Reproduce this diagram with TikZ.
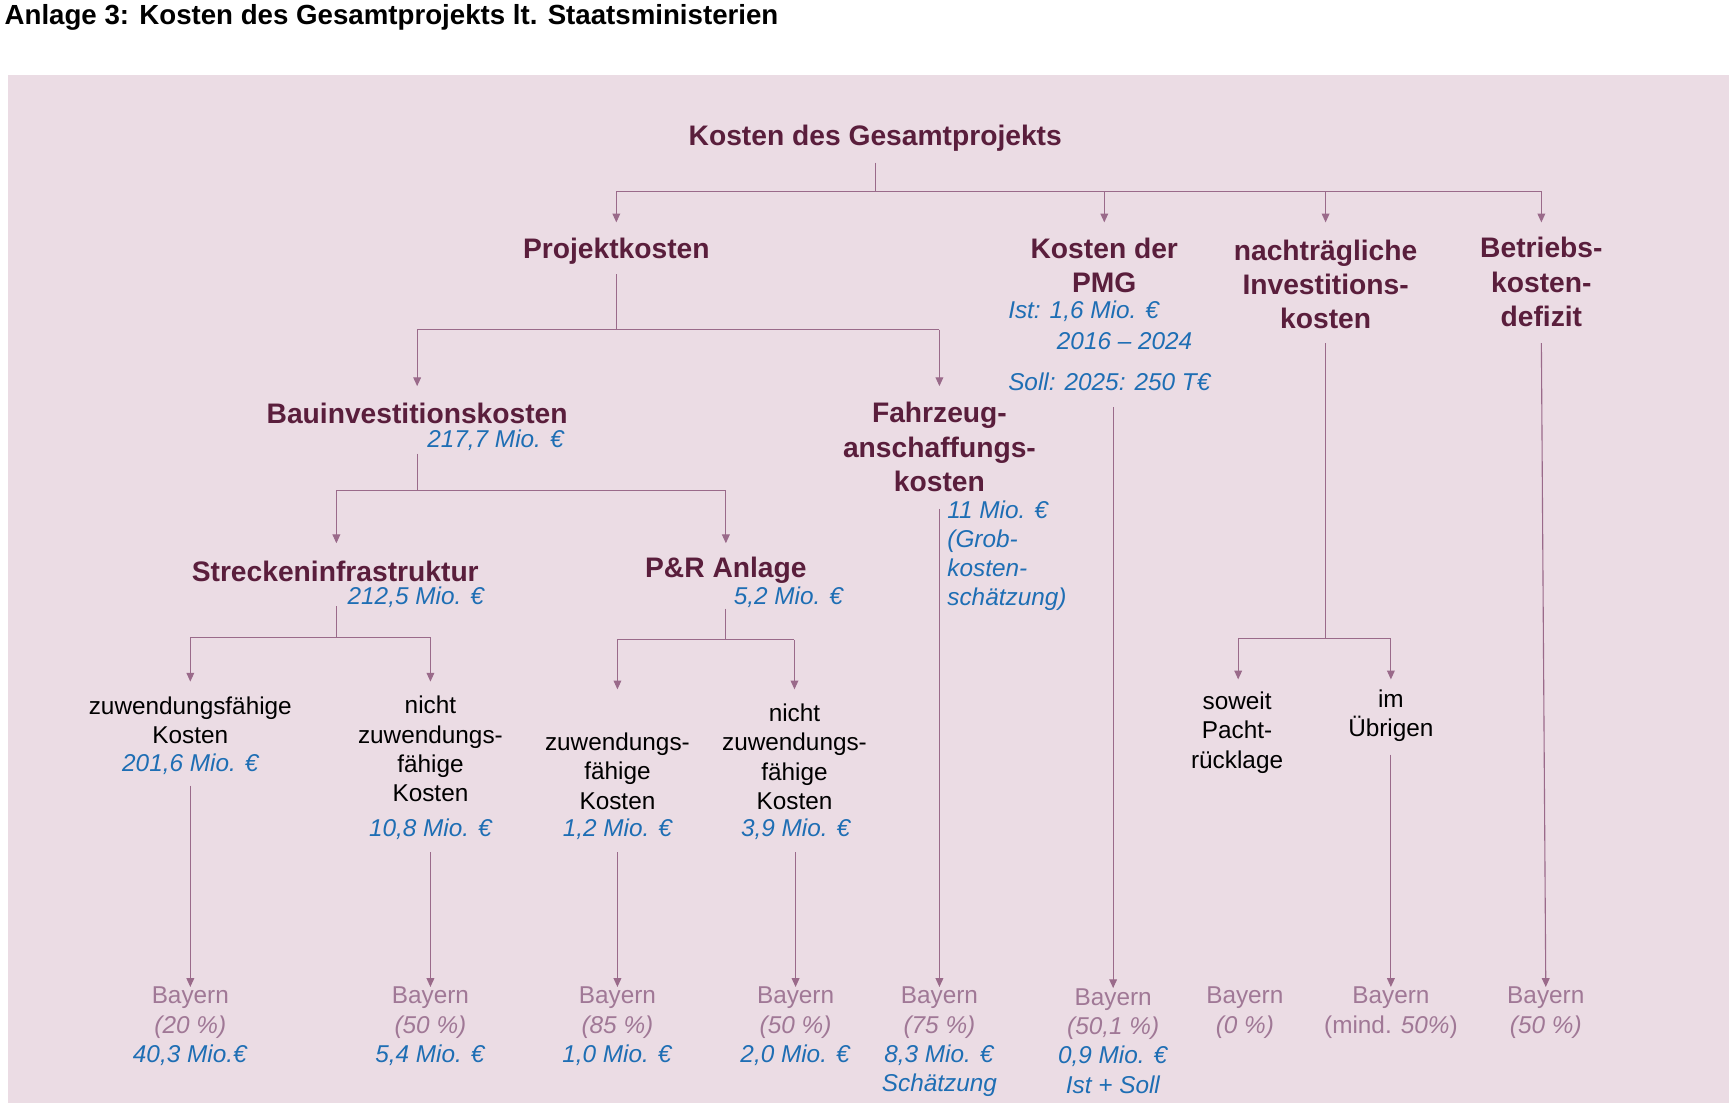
\documentclass[tikz,border=0pt]{standalone}
\usepackage{fontspec}
\setmainfont{Liberation Sans}
\usetikzlibrary{arrows.meta}
\definecolor{bg}{HTML}{EBDCE4}
\definecolor{hd}{HTML}{5A1E3C}
\definecolor{ln}{HTML}{9A6A8A}
\definecolor{bl}{HTML}{1E6EB4}
\definecolor{gy}{HTML}{A07896}
\tikzset{
 hdn/.style={text=hd,font=\fontsize{25.5}{31}\selectfont\bfseries,align=center,inner sep=0pt},
 txt/.style={text=black,font=\fontsize{22}{26.5}\selectfont,align=center,inner sep=0pt},
 blu/.style={text=bl,font=\fontsize{22}{26.5}\selectfont\itshape,inner sep=0pt},
 gry/.style={text=gy,font=\fontsize{22}{26.5}\selectfont,align=center,inner sep=0pt},
 con/.style={draw=ln,line width=1pt},
 arr/.style={con,-{Triangle[length=8pt,width=7pt]}}
}
\begin{document}
\begin{tikzpicture}[x=1pt,y=-1pt]
\useasboundingbox (0,0) rectangle (1568,1000);
\fill[bg] (7,68) rectangle (1563,997);
\node[anchor=west,font=\fontsize{25}{30}\selectfont\bfseries,inner sep=0pt] (title) at (4,16) {Anlage 3: Kosten des Gesamtprojekts lt. Staatsministerien};
% level 0
\node[hdn] (root) at (791,125) {Kosten des Gesamtprojekts};
\coordinate (r1) at (791,173);
\draw[con] (791,147) -- (r1);
\draw[con] (557,173) -- (1393,173);
\draw[arr] (557,173) -- (557,201);
\draw[arr] (998,173) -- (998,201);
\draw[arr] (1198,173) -- (1198,201);
\draw[arr] (1393,173) -- (1393,201);
% level 1
\node[hdn] (proj) at (557,227) {Projektkosten};
\node[hdn] (pmg) at (998,240) {Kosten der\\PMG};
\node[blu,anchor=west] (pmg1) at (911,281) {Ist: 1,6 Mio. €};
\node[blu,anchor=west] (pmg2) at (955,308) {2016 – 2024};
\node[blu,anchor=west] (pmg3) at (911,345) {Soll: 2025: 250 T€};
\node[hdn] (nach) at (1198,257) {nachträgliche\\Investitions-\\kosten};
\node[hdn] (betr) at (1393,255) {Betriebs-\\kosten-\\defizit};
% projekt branch
\draw[con] (557,248) -- (557,298);
\draw[con] (377,298) -- (849,298);
\draw[arr] (377,298) -- (377,349);
\draw[arr] (849,298) -- (849,349);
\node[hdn] (bau) at (377,374) {Bauinvestitionskosten};
\node[blu,anchor=west] (bau1) at (386,398) {217,7 Mio. €};
\node[hdn] (fahr) at (849,404) {Fahrzeug-\\anschaffungs-\\kosten};
\node[blu,anchor=north west,align=left] (fahr1) at (856,452) {11 Mio. €\\(Grob-\\kosten-\\schätzung)};
% bau branch
\draw[con] (377,410) -- (377,443);
\draw[con] (304,443) -- (656,443);
\draw[arr] (304,443) -- (304,491);
\draw[arr] (656,443) -- (656,491);
\node[hdn] (str) at (303,516) {Streckeninfrastruktur};
\node[blu,anchor=west] (str1) at (314,540) {212,5 Mio. €};
\node[hdn] (pr) at (656,515) {P\&R Anlage};
\node[blu,anchor=west] (pr1) at (663,540) {5,2 Mio. €};
\draw[con] (304,548) -- (304,576);
\draw[con] (172,576) -- (389,576);
\draw[arr] (172,576) -- (172,616);
\draw[arr] (389,576) -- (389,616);
\draw[con] (656,550) -- (656,578);
\draw[con] (558,578) -- (718,578);
\draw[arr] (558,578) -- (558,623);
\draw[arr] (718,578) -- (718,623);
% leaves
\node[txt] (a) at (172,651) {zuwendungsfähige\\Kosten};
\node[blu] (a1) at (172,691) {201,6 Mio. €};
\node[txt] (b) at (389,677) {nicht\\zuwendungs-\\fähige\\Kosten};
\node[blu] (b1) at (389,749) {10,8 Mio. €};
\node[txt] (c) at (558,697) {zuwendungs-\\fähige\\Kosten};
\node[blu] (c1) at (558,749) {1,2 Mio. €};
\node[txt] (d) at (718,684) {nicht\\zuwendungs-\\fähige\\Kosten};
\node[blu] (d1) at (719,749) {3,9 Mio. €};
\node[txt] (e) at (1118,662) {soweit\\Pacht-\\rücklage};
\node[txt] (f) at (1257,647) {im\\Übrigen};
% nach branch
\draw[con] (1198,310) -- (1198,577);
\draw[con] (1119,577) -- (1257,577);
\draw[arr] (1119,577) -- (1119,614);
\draw[arr] (1257,577) -- (1257,614);
% bottom
\node[gry,anchor=north] (ba) at (172,892) {Bayern\\\textit{(20 \%)}\\\textcolor{bl}{\textit{40,3 Mio.€}}};
\node[gry,anchor=north] (bb) at (389,892) {Bayern\\\textit{(50 \%)}\\\textcolor{bl}{\textit{5,4 Mio. €}}};
\node[gry,anchor=north] (bc) at (558,892) {Bayern\\\textit{(85 \%)}\\\textcolor{bl}{\textit{1,0 Mio. €}}};
\node[gry,anchor=north] (bd) at (719,892) {Bayern\\\textit{(50 \%)}\\\textcolor{bl}{\textit{2,0 Mio. €}}};
\node[gry,anchor=north] (be) at (849,892) {Bayern\\\textit{(75 \%)}\\\textcolor{bl}{\textit{8,3 Mio. €}}\\\textcolor{bl}{\textit{Schätzung}}};
\node[gry,anchor=north] (bf) at (1006,893) {Bayern\\\textit{(50,1 \%)}\\\textcolor{bl}{\textit{0,9 Mio. €}}\\\textcolor{bl}{\textit{Ist + Soll}}};
\node[gry,anchor=north] (bg) at (1125,892) {Bayern\\\textit{(0 \%)}};
\node[gry,anchor=north] (bh) at (1257,892) {Bayern\\(mind. \textit{50\%})};
\node[gry,anchor=north] (bi) at (1397,892) {Bayern\\\textit{(50 \%)}};
\draw[arr] (172,710) -- (ba.north);
\draw[arr] (389,770) -- (bb.north);
\draw[arr] (558,770) -- (bc.north);
\draw[arr] (719,770) -- (bd.north);
\draw[arr] (849,460) -- (be.north);
\draw[arr] (1006,368) -- (bf.north);
\draw[arr] (1257,682) -- (bh.north);
\draw[arr] (1393,310) -- (bi.north);
\end{tikzpicture}
\end{document}
